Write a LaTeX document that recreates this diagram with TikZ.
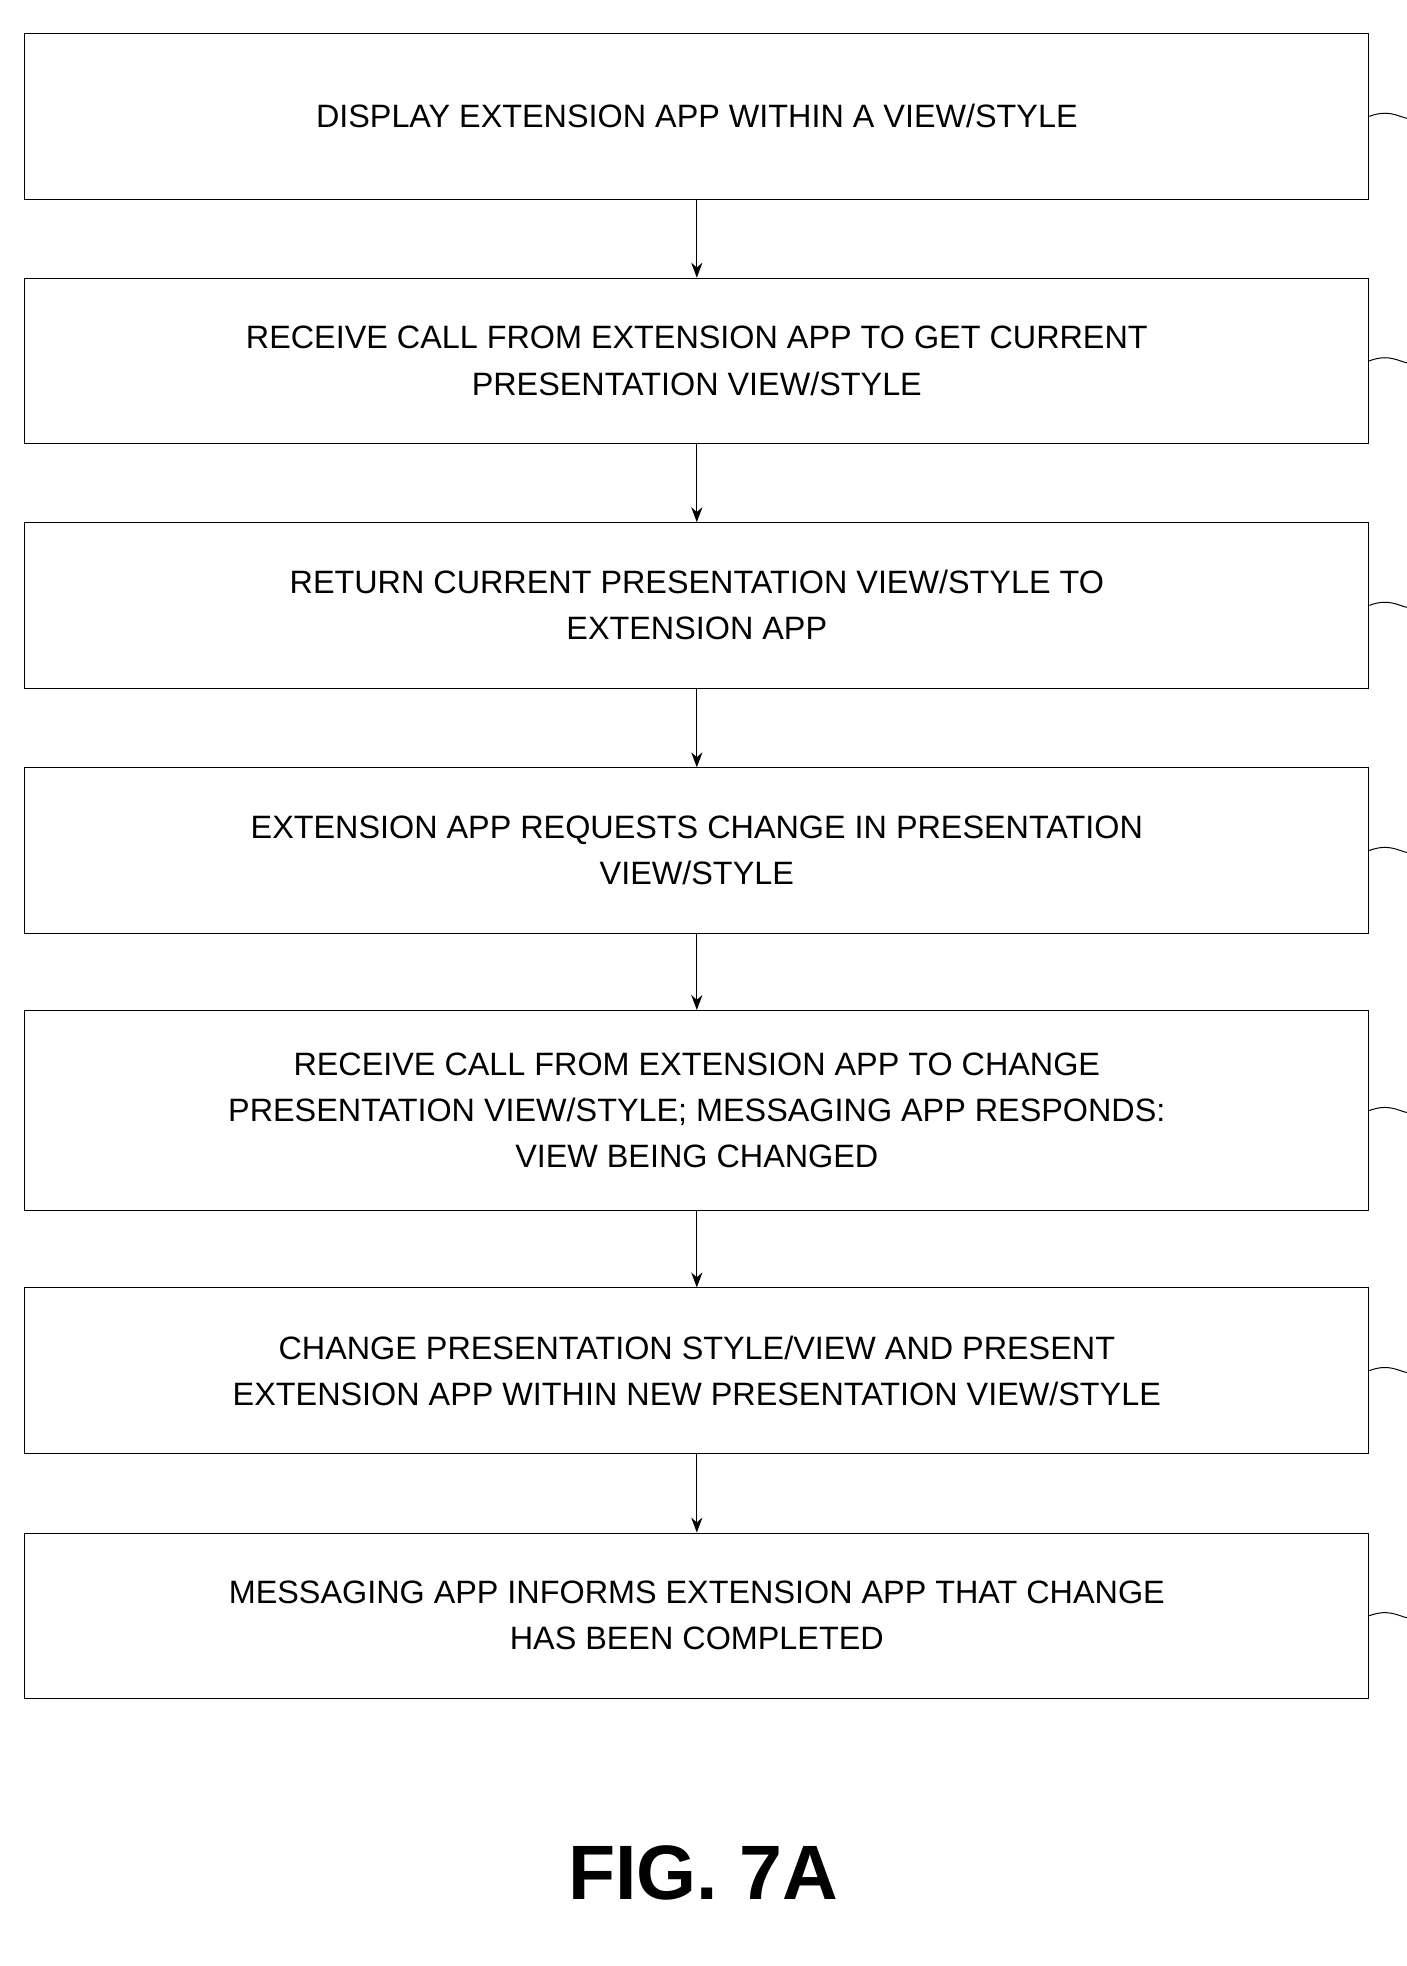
\documentclass[tikz,border=0pt]{standalone}
\usepackage{fontspec}
\setmainfont{Liberation Sans}
\usetikzlibrary{arrows.meta, positioning}

\tikzset{
  stage/.style={draw, thick, minimum width=1080pt, minimum height=133pt, align=center,
    font=\fontsize{26}{37}\selectfont, inner sep=0pt},
  flow/.style={thick, -{Stealth[length=12pt,width=9pt]}},
  tag/.style={font=\fontsize{24}{28}\selectfont},
  lead/.style={thick}
}

\begin{document}
\begin{tikzpicture}[x=1pt, y=-1pt]
\useasboundingbox (0,0) rectangle (1130,1580);

% Process steps
\node[stage] (s351) at (560,93.5) {DISPLAY EXTENSION APP WITHIN A VIEW/STYLE};
\node[stage] (s353) at (560,290) {RECEIVE CALL FROM EXTENSION APP TO GET CURRENT\\PRESENTATION VIEW/STYLE};
\node[stage] (s357) at (560,486.5) {RETURN CURRENT PRESENTATION VIEW/STYLE TO\\EXTENSION APP};
\node[stage] (s359) at (560,683.5) {EXTENSION APP REQUESTS CHANGE IN PRESENTATION\\VIEW/STYLE};
\node[stage, minimum height=161pt] (s361) at (560,892.5) {RECEIVE CALL FROM EXTENSION APP TO CHANGE\\PRESENTATION VIEW/STYLE; MESSAGING APP RESPONDS:\\VIEW BEING CHANGED};
\node[stage] (s363) at (560,1101.5) {CHANGE PRESENTATION STYLE/VIEW AND PRESENT\\EXTENSION APP WITHIN NEW PRESENTATION VIEW/STYLE};
\node[stage] (s365) at (560,1298.5) {MESSAGING APP INFORMS EXTENSION APP THAT CHANGE\\HAS BEEN COMPLETED};

% Arrows
\foreach \a/\b in {s351/s353, s353/s357, s357/s359, s359/s361, s361/s363, s363/s365} {
  \draw[flow] (\a) -- (\b);
}

% Reference numerals
\foreach \s/\n in {s351/351, s353/353, s357/357, s359/359, s361/361, s363/363, s365/365} {
  \draw[lead] (\s.east) to[out=20,in=160] ++(25,0) to[out=-20,in=200] ++(25,0)
    to[out=20,in=-110] ++(18,-25) coordinate (e\n);
  \node[tag, above=4pt of e\n, xshift=8pt] (n\n) {\n};
}

% Caption
\node[font=\fontsize{62}{70}\selectfont\bfseries] (fig) at (565,1505) {FIG. 7A};
\end{tikzpicture}
\end{document}
